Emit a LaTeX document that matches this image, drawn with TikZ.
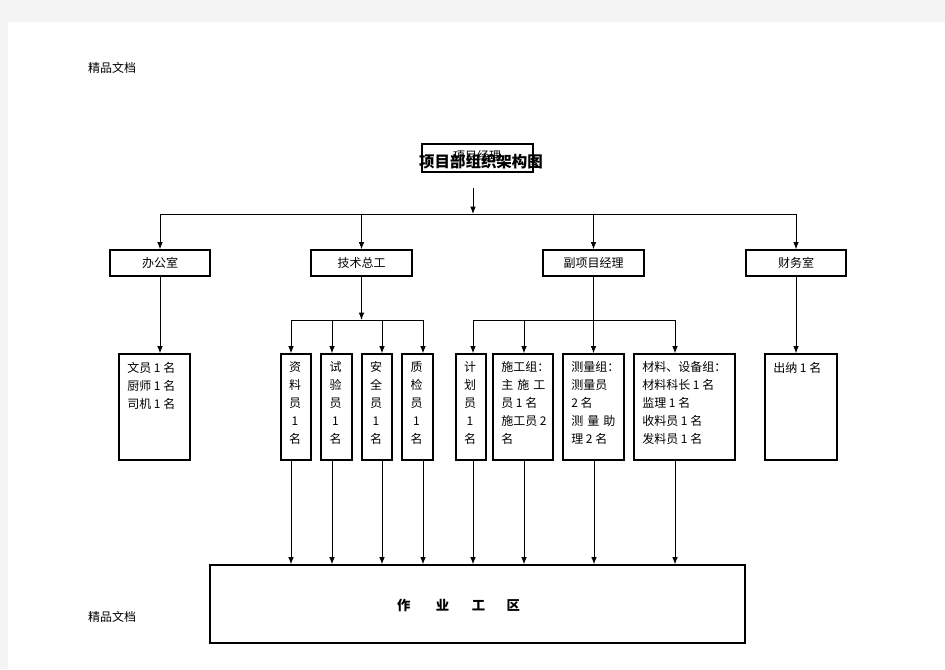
\documentclass[tikz,border=0pt]{standalone}
\usepackage{fontspec}
\newfontfamily\cjk{Noto Sans CJK SC}
\usetikzlibrary{arrows.meta}
\begin{document}
\begin{tikzpicture}[x=0.75pt,y=-0.75pt,
  ln/.style={line width=0.75pt, draw=black},
  arr/.style={ln, -{Latex[length=5.5pt,width=4.2pt]}},
  box/.style={draw=black, line width=0.9pt, fill=white, inner sep=0pt},
  txt/.style={font=\cjk\fontsize{9pt}{13.5pt}\selectfont, inner sep=0pt},
  ltxt/.style={txt, align=left, anchor=north west},
  vtxt/.style={txt, align=center, anchor=north}]
% page
\fill[fill={rgb,255:red,244;green,244;blue,244}] (0,0) rectangle (945,669);
\fill[white] (8,22) rectangle (945,669);
\useasboundingbox (0,0) rectangle (945,669);
% headers
\node[txt] (hd1) at (112,68) {精品文档};
\node[txt] (hd2) at (112,617) {精品文档};
% top box and title
\node[box, minimum width=83.25pt, minimum height=21pt] (pm) at (477.5,158) {};
\node[txt] (pmt) at (477,156) {项目经理};
\node[font=\cjk\bfseries\fontsize{11.6pt}{14pt}\selectfont, inner sep=0pt] (title) at (481,162) {项目部组织架构图};
% level 2
\node[box, txt, minimum width=75pt, minimum height=19.5pt] (bgs) at (160,263) {办公室};
\node[box, txt, minimum width=75.75pt, minimum height=19.5pt] (js) at (361.5,263) {技术总工};
\node[box, txt, minimum width=75.75pt, minimum height=19.5pt] (fx) at (593.5,263) {副项目经理};
\node[box, txt, minimum width=75pt, minimum height=19.5pt] (cw) at (796,263) {财务室};
% level 3 boxes
\node[box, minimum width=53.25pt, minimum height=79.5pt] (wy) at (154.5,407) {};
\node[box, minimum width=22.5pt, minimum height=79.5pt] (zl) at (296,407) {};
\node[box, minimum width=23.25pt, minimum height=79.5pt] (sy) at (336.5,407) {};
\node[box, minimum width=22.5pt, minimum height=79.5pt] (aq) at (377,407) {};
\node[box, minimum width=23.25pt, minimum height=79.5pt] (zj) at (417.5,407) {};
\node[box, minimum width=22.5pt, minimum height=79.5pt] (jh) at (471,407) {};
\node[box, minimum width=45pt, minimum height=79.5pt] (sg) at (523,407) {};
\node[box, minimum width=45.75pt, minimum height=79.5pt] (cl) at (593.5,407) {};
\node[box, minimum width=75.75pt, minimum height=79.5pt] (sb) at (684.5,407) {};
\node[box, minimum width=54pt, minimum height=79.5pt] (cn) at (801,407) {};
% level 3 texts
\node[ltxt] (wyt) at (127,362) {文员 1 名\\厨师 1 名\\司机 1 名};
\node[vtxt] (zlt) at (295,361) {资\\料\\员\\1\\名};
\node[vtxt] (syt) at (335.5,361) {试\\验\\员\\1\\名};
\node[vtxt] (aqt) at (376,361) {安\\全\\员\\1\\名};
\node[vtxt] (zjt) at (416.5,361) {质\\检\\员\\1\\名};
\node[vtxt] (jht) at (470,361) {计\\划\\员\\1\\名};
\node[ltxt] (sgt) at (501,361) {施工组：\\主\hspace{3pt}施\hspace{3pt}工\\员 1 名\\施工员 2\\名};
\node[ltxt] (clt) at (571,361) {测量组：\\测量员\\2 名\\测\hspace{3pt}量\hspace{3pt}助\\理 2 名};
\node[ltxt] (sbt) at (642,361) {材料、设备组：\\材料科长 1 名\\监理 1 名\\收料员 1 名\\发料员 1 名};
\node[ltxt] (cnt) at (773,362) {出纳 1 名};
% work area
\node[box, minimum width=401.25pt, minimum height=58.5pt] (work) at (477.5,604) {};
\node[font=\cjk\bfseries\fontsize{10pt}{12pt}\selectfont, inner sep=0pt] (workt) at (458.5,605) {作\hspace{19pt}业\hspace{17pt}工\hspace{16pt}区};
% connectors top
\coordinate (ts) at (473,188);
\coordinate (tj) at (473,214);
\draw[arr] (ts) -- (tj);
\coordinate (hl) at (160,214);
\coordinate (hr) at (796,214);
\draw[ln] (hl) -- (hr);
\draw[arr] (bgs.north |- hl) -- (bgs.north);
\draw[arr] (js.north |- hl) -- (js.north);
\draw[arr] (fx.north |- hl) -- (fx.north);
\draw[arr] (cw.north |- hl) -- (cw.north);
% office / finance
\draw[arr] (bgs.south) -- (bgs.south |- wy.north);
\draw[arr] (cw.south) -- (cw.south |- cn.north);
% technical branch
\coordinate (a1) at (291,320);
\coordinate (a2) at (332,320);
\coordinate (a3) at (382,320);
\coordinate (a4) at (423,320);
\draw[arr] (js.south) -- (js.south |- a1);
\draw[ln] (a1) -- (a4);
\draw[arr] (a1) -- (a1 |- zl.north);
\draw[arr] (a2) -- (a2 |- sy.north);
\draw[arr] (a3) -- (a3 |- aq.north);
\draw[arr] (a4) -- (a4 |- zj.north);
% deputy branch
\coordinate (b1) at (473,320);
\coordinate (b2) at (524,320);
\coordinate (b3) at (594,320);
\coordinate (b4) at (675,320);
\draw[ln] (b1) -- (b4);
\draw[arr] (fx.south) -- (fx.south |- cl.north);
\draw[arr] (b1) -- (b1 |- jh.north);
\draw[arr] (b2) -- (b2 |- sg.north);
\draw[arr] (b4) -- (b4 |- sb.north);
% to work area
\draw[arr] (a1 |- zl.south) -- (a1 |- work.north);
\draw[arr] (a2 |- sy.south) -- (a2 |- work.north);
\draw[arr] (a3 |- aq.south) -- (a3 |- work.north);
\draw[arr] (a4 |- zj.south) -- (a4 |- work.north);
\draw[arr] (b1 |- jh.south) -- (b1 |- work.north);
\draw[arr] (b2 |- sg.south) -- (b2 |- work.north);
\draw[arr] (b3 |- cl.south) -- (b3 |- work.north);
\draw[arr] (b4 |- sb.south) -- (b4 |- work.north);
\end{tikzpicture}
\end{document}
